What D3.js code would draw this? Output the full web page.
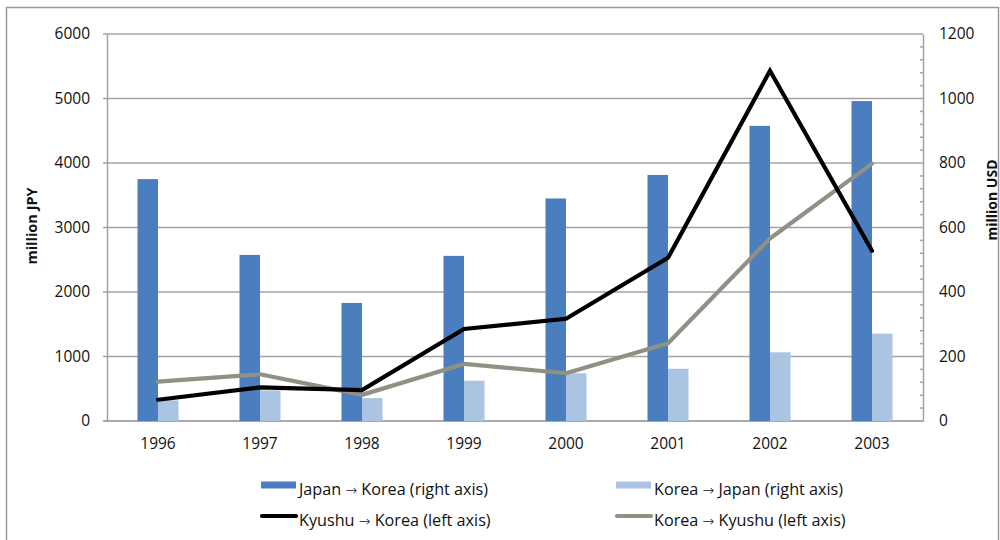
<!DOCTYPE html>
<html>
<head>
<meta charset="utf-8">
<script src="https://cdn.jsdelivr.net/npm/d3@7"></script>
<style>
  html, body { margin: 0; padding: 0; background: #fff; }
  svg { display: block; font-family: "Open Sans", "Noto Sans", sans-serif; }
</style>
</head>
<body>
<svg id="chart" width="1000" height="540"></svg>
<script>
// Trade flows between Japan/Kyushu and Korea
const years = ["1996", "1997", "1998", "1999", "2000", "2001", "2002", "2003"];
// bars, million USD (right axis)
const japanToKorea = [750, 515, 366, 512, 690, 763, 915, 992];
const koreaToJapan = [64, 95, 71, 125, 148, 162, 213, 271];
// lines, million JPY (left axis)
const kyushuToKorea = [330, 522, 480, 1426, 1585, 2530, 5430, 2640];
const koreaToKyushu = [610, 725, 405, 885, 740, 1205, 2830, 3990];
const leftTicks = [0, 1000, 2000, 3000, 4000, 5000, 6000];
const rightTicks = [0, 200, 400, 600, 800, 1000, 1200];

const colors = {
  jk: "#4a7ebf",
  kj: "#aac4e2",
  kyushu: "#000000",
  kk: "#8e9184",
  grid: "#a3a3a6"
};

const svg = d3.select("#chart");
const m = { left: 107, right: 923, top: 34, bottom: 421 };

// outer frame
svg.append("rect")
  .attr("x", 6.5).attr("y", 7.5).attr("width", 992).attr("height", 540)
  .attr("fill", "none").attr("stroke", "#9a9a9a").attr("stroke-width", 1.5);

const x = d3.scaleBand().domain(years).range([m.left, m.right]);
const yL = d3.scaleLinear().domain([0, 6000]).range([m.bottom, m.top]);
const yR = d3.scaleLinear().domain([0, 1200]).range([m.bottom, m.top]);

// gridlines
svg.append("g").selectAll("line").data(leftTicks).join("line")
  .attr("x1", m.left - 4).attr("x2", m.right)
  .attr("y1", d => yL(d)).attr("y2", d => yL(d))
  .attr("stroke", colors.grid).attr("stroke-width", 1.5);

// left axis
const gL = svg.append("g").attr("transform", `translate(${m.left},0)`)
  .call(d3.axisLeft(yL).tickValues(leftTicks).tickSize(0).tickPadding(17).tickFormat(d3.format("d")));
gL.select(".domain").attr("stroke", colors.grid).attr("stroke-width", 1.5);
gL.selectAll("text").attr("font-size", 15.5).attr("fill", "#111").attr("font-family", "Open Sans");

// right axis with minor ticks
const gR = svg.append("g").attr("transform", `translate(${m.right},0)`)
  .call(d3.axisRight(yR).tickValues(rightTicks).tickSize(0).tickPadding(16).tickFormat(d3.format("d")));
gR.select(".domain").attr("stroke", colors.grid).attr("stroke-width", 1.5);
gR.selectAll("text").attr("font-size", 15.5).attr("fill", "#111").attr("font-family", "Open Sans");
const minor = d3.range(0, 1201, 40).filter(v => v % 200 !== 0);
gR.append("g").selectAll("line").data(minor).join("line")
  .attr("x1", -3).attr("x2", 0)
  .attr("y1", d => yR(d)).attr("y2", d => yR(d))
  .attr("stroke", colors.grid).attr("stroke-width", 1.5);

// bottom axis
const gB = svg.append("g").attr("transform", `translate(0,${m.bottom})`)
  .call(d3.axisBottom(x).tickSize(0).tickPadding(17));
gB.select(".domain").attr("stroke", colors.grid).attr("stroke-width", 1.5)
  .attr("d", `M${m.left - 4},0H${m.right}`);
gB.selectAll("text").attr("font-size", 15.5).attr("fill", "#111").attr("font-family", "Open Sans");

// bars
const bw = 20.5;
const bars = svg.append("g");
bars.selectAll("rect.jk").data(years).join("rect").attr("class", "jk")
  .attr("x", d => x(d) + x.bandwidth() / 2 - bw)
  .attr("width", bw)
  .attr("y", (d, i) => yR(japanToKorea[i]))
  .attr("height", (d, i) => m.bottom - yR(japanToKorea[i]))
  .attr("fill", colors.jk);
bars.selectAll("rect.kj").data(years).join("rect").attr("class", "kj")
  .attr("x", d => x(d) + x.bandwidth() / 2)
  .attr("width", bw)
  .attr("y", (d, i) => yR(koreaToJapan[i]))
  .attr("height", (d, i) => m.bottom - yR(koreaToJapan[i]))
  .attr("fill", colors.kj);

// lines
const lineL = d3.line()
  .x((d, i) => x(years[i]) + x.bandwidth() / 2)
  .y(d => yL(d));
svg.append("path").datum(koreaToKyushu).attr("d", lineL)
  .attr("fill", "none").attr("stroke", colors.kk).attr("stroke-width", 4.2)
  .attr("stroke-linejoin", "round").attr("stroke-linecap", "round");
svg.append("path").datum(kyushuToKorea).attr("d", lineL)
  .attr("fill", "none").attr("stroke", colors.kyushu).attr("stroke-width", 4.2)
  .attr("stroke-linejoin", "miter").attr("stroke-linecap", "round");

// axis titles
svg.append("text")
  .attr("transform", "translate(37,226) rotate(-90)")
  .attr("text-anchor", "middle").attr("font-size", 14.5).attr("font-weight", "bold")
  .attr("fill", "#111").text("million JPY");
svg.append("text")
  .attr("transform", "translate(997,200) rotate(-90)")
  .attr("text-anchor", "middle").attr("font-size", 14).attr("font-weight", "bold")
  .attr("fill", "#111").text("million USD");

// legend
const legendItems = [
  { from: "Japan", to: "Korea (right axis)", type: "rect", color: colors.jk, x: 261, y: 485 },
  { from: "Korea", to: "Japan (right axis)", type: "rect", color: colors.kj, x: 616, y: 485 },
  { from: "Kyushu", to: "Korea (left axis)", type: "line", color: colors.kyushu, x: 261, y: 516 },
  { from: "Korea", to: "Kyushu (left axis)", type: "line", color: colors.kk, x: 616, y: 516 }
];
const lg = svg.append("g").selectAll("g").data(legendItems).join("g")
  .attr("transform", d => `translate(${d.x},${d.y})`);
lg.filter(d => d.type === "rect").append("rect")
  .attr("x", 0).attr("y", -3.5).attr("width", 35).attr("height", 7)
  .attr("fill", d => d.color);
lg.filter(d => d.type === "line").append("line")
  .attr("x1", 1).attr("x2", 35).attr("y1", 0).attr("y2", 0)
  .attr("stroke", d => d.color).attr("stroke-width", 4.2).attr("stroke-linecap", "round");
const lt = lg.append("text").attr("x", 38).attr("y", 9.5)
  .attr("font-size", 16.2).attr("fill", "#111");
lt.append("tspan").text(d => d.from + " ");
lt.append("tspan").attr("font-family", "DejaVu Sans").attr("font-size", 14).attr("font-weight", 300).text("→");
lt.append("tspan").text(d => " " + d.to);
</script>
</body>
</html>
